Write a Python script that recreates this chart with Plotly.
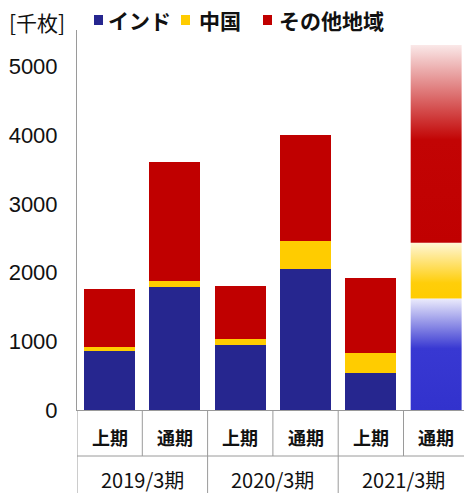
import plotly.graph_objects as go

# ---- data (千枚) ----
periods = ["2019/3期", "2020/3期", "2021/3期"]
halves = ["上期", "通期"]
india = [865, 1785, 945, 2060, 535, 1625]
china = [50, 100, 85, 400, 290, 810]
other = [845, 1725, 780, 1545, 1095, 2880]
forecast_index = 5          # last column is a forecast, drawn with faded fills
y_ticks = [0, 1000, 2000, 3000, 4000, 5000]

series_names = ["インド", "中国", "その他地域"]
series_values = [india, china, other]
solid_colors = ["#26268f", "#ffcc00", "#c00000"]
fade_scales = [
    [[0, "rgb(50,50,205)"], [0.55, "rgb(56,56,210)"], [1, "rgb(236,236,252)"]],
    [[0, "rgb(255,204,0)"], [0.28, "rgb(255,206,10)"], [1, "rgb(255,246,214)"]],
    [[0, "rgb(192,0,0)"], [0.52, "rgb(194,4,4)"], [1, "rgb(250,232,232)"]],
]

n_cols = len(periods) * len(halves)
xs = list(range(n_cols))
bar_w = 0.78

# figure geometry (pixels)
W, H = 464, 493
L, R, T, B = 77, 0, 30, 83
plot_w, plot_h = W - L - R, H - T - B


def px_x(px):
    return (px - L) / plot_w


def px_y(py):
    return (H - B - py) / plot_h


fig = go.Figure()

# stacked bars for actual results
solid_x = [x for x in xs if x != forecast_index]
for name, vals, col in zip(series_names, series_values, solid_colors):
    fig.add_trace(go.Bar(
        x=solid_x, y=[vals[i] for i in solid_x], name=name,
        marker=dict(color=col, line=dict(width=0)), width=bar_w,
        showlegend=False,
    ))

# forecast column: stacked segments with vertical colour fade
base = 0
fx = forecast_index
for name, vals, scale in zip(series_names, series_values, fade_scales):
    top = base + vals[fx]
    fig.add_trace(go.Scatter(
        x=[fx - bar_w / 2, fx + bar_w / 2, fx + bar_w / 2, fx - bar_w / 2, fx - bar_w / 2],
        y=[base, base, top, top, base],
        mode="lines", line=dict(width=0), fill="toself",
        fillgradient=dict(type="vertical", colorscale=scale, start=base, stop=top),
        name=name, showlegend=False, hoverinfo="skip",
    ))
    base = top

grid_col = "#9a9a9a"
text_col = "#111"
jp_font = "Noto Sans CJK JP"
shapes = []
annotations = []

# category table under the plot
row_split = px_y(456)
table_bottom = px_y(493)
shapes.append(dict(type="line", xref="paper", yref="paper", x0=0, x1=1,
                   y0=row_split, y1=row_split, line=dict(color=grid_col, width=1)))
for k in range(n_cols + 1):
    xb = k - 0.5
    y_end = table_bottom if k % len(halves) == 0 else row_split
    shapes.append(dict(type="line", xref="x", yref="paper", x0=xb, x1=xb,
                       y0=0, y1=y_end, line=dict(color=grid_col, width=1)))
for i in xs:
    annotations.append(dict(
        x=i, y=px_y(437), xref="x", yref="paper", xanchor="center", yanchor="middle",
        text="<b>" + halves[i % 2] + "</b>", showarrow=False,
        font=dict(size=18, color=text_col, family=jp_font),
    ))
for g, p in enumerate(periods):
    annotations.append(dict(
        x=g * 2 + 0.5, y=px_y(479), xref="x", yref="paper", xanchor="center",
        yanchor="middle", text=p, showarrow=False,
        font=dict(size=20, color=text_col, family=jp_font),
    ))

# unit label and legend row
annotations.append(dict(
    x=px_x(7), y=px_y(22), xref="paper", yref="paper", xanchor="left",
    yanchor="middle", text="[千枚]", showarrow=False,
    font=dict(size=21, color=text_col, family=jp_font),
))
legend_pos = [(94, 106), (181, 197), (263, 277)]
for (sq, tx), name, col in zip(legend_pos, series_names, solid_colors):
    shapes.append(dict(type="rect", xref="paper", yref="paper",
                       x0=px_x(sq), x1=px_x(sq + 9), y0=px_y(25), y1=px_y(15),
                       fillcolor=col, line=dict(width=0)))
    annotations.append(dict(
        x=px_x(tx), y=px_y(20), xref="paper", yref="paper", xanchor="left",
        yanchor="middle", text="<b>" + name + "</b>", showarrow=False,
        font=dict(size=21, color=text_col, family=jp_font),
    ))

fig.update_layout(
    width=W, height=H,
    margin=dict(l=L, r=R, t=T, b=B, pad=0),
    paper_bgcolor="white", plot_bgcolor="white",
    barmode="stack", bargap=0,
    xaxis=dict(range=[-0.5, -0.5 + plot_w / 65.3], showticklabels=False,
               showgrid=False, zeroline=False, showline=True,
               linecolor=grid_col, linewidth=1, ticks="", fixedrange=True),
    yaxis=dict(range=[0, 5534], tickvals=y_ticks, showgrid=False, zeroline=False,
               showline=True, linecolor=grid_col, linewidth=1, ticks="",
               ticklabelstandoff=14,
               tickfont=dict(size=22, color=text_col, family="Liberation Sans")),
    shapes=shapes, annotations=annotations, showlegend=False,
)

fig.write_html("out.html")
